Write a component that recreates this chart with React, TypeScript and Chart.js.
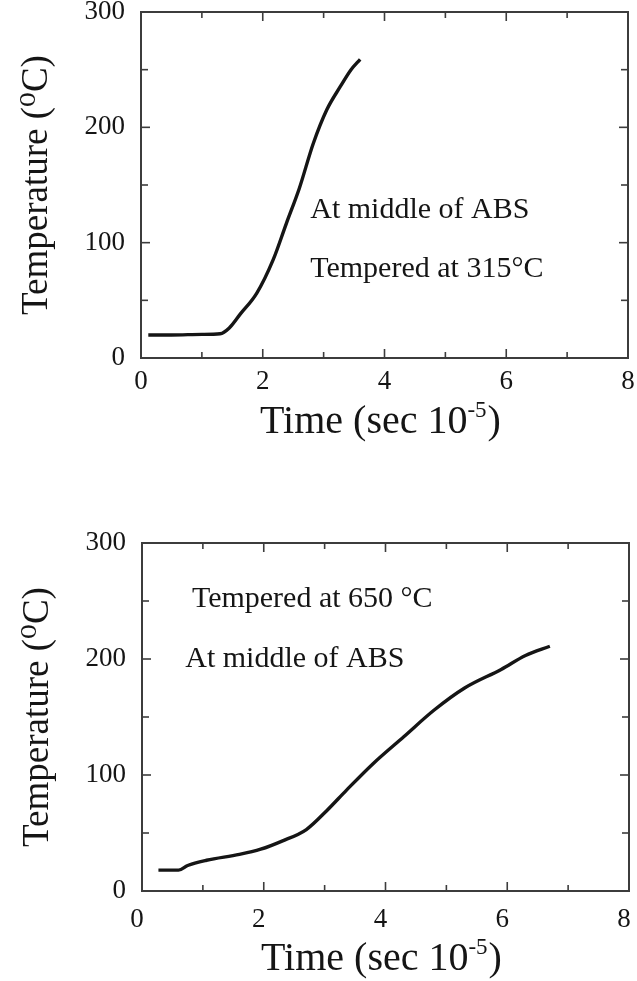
import React, { useEffect, useRef } from "react";
import { Chart, registerables } from "chart.js";

Chart.register(...registerables);

const SERIF = '"Liberation Serif", "Times New Roman", "DejaVu Serif", serif';
const INK = "#151515";
const FRAME = "#3c3c3c";

// Axis ranges and tick steps (shared by both panels)
const X_MIN = 0;
const X_MAX = 8;
const X_MAJOR = 2;
const X_MINOR = 1;
const Y_MIN = 0;
const Y_MAX = 300;
const Y_MAJOR = 100;
const Y_MINOR = 50;

// Axis titles; the time unit carries a raised exponent
const X_TITLE_PARTS = ["Time (sec 10", "-5", ")"];
const Y_TITLE = "Temperature (\u2070C)";

// Upper panel: mid-point of the ABS layer, steel tempered at 315 °C
const timeUpper = [0.12, 0.5, 1.0, 1.3, 1.45, 1.63, 1.9, 2.17, 2.39, 2.6, 2.83, 3.05, 3.27, 3.45, 3.6];
const tempUpper = [20, 20, 20.5, 21, 26, 38, 56, 85, 117, 147, 186, 215, 235, 250, 259];
const notesUpper = ["At middle of ABS", "Tempered at 315\u00B0C"];

// Lower panel: mid-point of the ABS layer, steel tempered at 650 °C
const timeLower = [0.27, 0.6, 0.75, 1.06, 1.6, 1.95, 2.3, 2.7, 3.03, 3.36, 3.8, 4.3, 4.8, 5.3, 5.9, 6.3, 6.7];
const tempLower = [18, 18, 22, 26.5, 31.5, 36, 43, 53, 69, 87, 110, 133, 156, 175, 191, 203, 211];
const notesLower = ["Tempered at 650 \u00B0C", "At middle of ABS"];

type Anchor = { x: number; y: number };

interface PanelSpec {
  top: number;
  height: number;
  padTop: number;
  padLeft: number;
  padRight: number;
  yAxisWidth: number;
  xAxisHeight: number;
  xTickPad: number;
  xTickShift: number;
  xTitleBaseline: number;
  times: number[];
  temps: number[];
  notes: string[];
  anchors: Anchor[];
}

// Closed frame with inward ticks on all four sides, the in-plot notes and the time-axis title
const frameAndNotes = {
  id: "frameAndNotes",
  afterDatasetsDraw(chart: any, _args: any, opts: any) {
    const { ctx, chartArea: a, scales } = chart;
    const xs = scales.x;
    const ys = scales.y;
    ctx.save();
    ctx.strokeStyle = FRAME;
    ctx.lineWidth = 2;
    ctx.strokeRect(a.left, a.top, a.right - a.left, a.bottom - a.top);
    ctx.lineWidth = 1.6;
    const seg = (x1: number, y1: number, x2: number, y2: number) => {
      ctx.beginPath();
      ctx.moveTo(x1, y1);
      ctx.lineTo(x2, y2);
      ctx.stroke();
    };
    for (let v = X_MIN + X_MINOR; v < X_MAX; v += X_MINOR) {
      const px = xs.getPixelForValue(v);
      const len = v % X_MAJOR === 0 ? 9 : 6;
      seg(px, a.bottom, px, a.bottom - len);
      seg(px, a.top, px, a.top + len);
    }
    for (let v = Y_MIN + Y_MINOR; v < Y_MAX; v += Y_MINOR) {
      const py = ys.getPixelForValue(v);
      const len = v % Y_MAJOR === 0 ? 9 : 7;
      seg(a.left, py, a.left + len, py);
      seg(a.right, py, a.right - len, py);
    }

    ctx.fillStyle = INK;
    ctx.textAlign = "left";
    ctx.textBaseline = "alphabetic";

    // notes inside the plot, anchored in data coordinates
    ctx.font = `30px ${SERIF}`;
    const notes: string[] = opts.notes || [];
    const anchors: Anchor[] = opts.anchors || [];
    notes.forEach((t, i) => {
      const an = anchors[i];
      ctx.fillText(t, xs.getPixelForValue(an.x), ys.getPixelForValue(an.y));
    });

    // time-axis title with superscript exponent
    const mainFont = `40px ${SERIF}`;
    const supFont = `23px ${SERIF}`;
    const [p1, p2, p3] = X_TITLE_PARTS;
    ctx.font = mainFont;
    const w1 = ctx.measureText(p1).width;
    const w3 = ctx.measureText(p3).width;
    ctx.font = supFont;
    const w2 = ctx.measureText(p2).width + 1;
    const base = opts.xTitleBaseline;
    let x = (a.left + a.right) / 2 - (w1 + w2 + w3) / 2 - 4;
    ctx.font = mainFont;
    ctx.fillText(p1, x, base);
    x += w1;
    ctx.font = supFont;
    ctx.fillText(p2, x, base - 16);
    x += w2;
    ctx.font = mainFont;
    ctx.fillText(p3, x, base);
    ctx.restore();
  },
};

function Panel({ spec }: { spec: PanelSpec }) {
  const ref = useRef<HTMLCanvasElement | null>(null);

  useEffect(() => {
    if (!ref.current) return;
    const chart = new Chart(ref.current, {
      type: "line",
      data: {
        datasets: [
          {
            data: spec.times.map((t, i) => ({ x: t, y: spec.temps[i] })),
            borderColor: INK,
            borderWidth: 3.4,
            pointRadius: 0,
            fill: false,
            cubicInterpolationMode: "monotone",
          },
        ],
      },
      options: {
        responsive: false,
        animation: false,
        events: [],
        layout: {
          padding: { top: spec.padTop, left: spec.padLeft, right: spec.padRight, bottom: 0 },
        },
        plugins: {
          legend: { display: false },
          tooltip: { enabled: false },
          frameAndNotes: { notes: spec.notes, anchors: spec.anchors, xTitleBaseline: spec.xTitleBaseline },
        } as any,
        scales: {
          x: {
            type: "linear",
            min: X_MIN,
            max: X_MAX,
            grid: { display: false, drawTicks: false },
            border: { display: false },
            ticks: {
              stepSize: X_MAJOR,
              padding: spec.xTickPad,
              labelOffset: spec.xTickShift,
              color: INK,
              font: { family: SERIF, size: 27 },
              maxRotation: 0,
            },
            afterFit: (s: any) => {
              s.height = spec.xAxisHeight;
              s.paddingLeft = 0;
              s.paddingRight = 0;
            },
          },
          y: {
            type: "linear",
            min: Y_MIN,
            max: Y_MAX,
            grid: { display: false, drawTicks: false },
            border: { display: false },
            ticks: {
              stepSize: Y_MAJOR,
              padding: 16,
              color: INK,
              font: { family: SERIF, size: 27 },
            },
            title: {
              display: true,
              text: Y_TITLE,
              color: INK,
              font: { family: SERIF, size: 37 },
              padding: { top: 15, bottom: 0 },
            },
            afterFit: (s: any) => {
              s.width = spec.yAxisWidth;
              s.paddingTop = 0;
              s.paddingBottom = 0;
            },
          },
        },
      } as any,
      plugins: [frameAndNotes],
    });
    return () => chart.destroy();
  }, [spec]);

  return (
    <canvas
      ref={ref}
      width={637}
      height={spec.height}
      style={{ position: "absolute", left: 0, top: spec.top, width: 637, height: spec.height, display: "block" }}
    />
  );
}

const upperSpec: PanelSpec = {
  top: 0,
  height: 460,
  padTop: 12,
  padLeft: 0,
  padRight: 9,
  yAxisWidth: 141,
  xAxisHeight: 102,
  xTickPad: 8,
  xTickShift: 0,
  xTitleBaseline: 433,
  times: timeUpper,
  temps: tempUpper,
  notes: notesUpper,
  anchors: [
    { x: 2.78, y: 121 },
    { x: 2.78, y: 70 },
  ],
};

const lowerSpec: PanelSpec = {
  top: 520,
  height: 461,
  padTop: 23,
  padLeft: 1,
  padRight: 8,
  yAxisWidth: 141,
  xAxisHeight: 90,
  xTickPad: 13,
  xTickShift: -5,
  xTitleBaseline: 450,
  times: timeLower,
  temps: tempLower,
  notes: notesLower,
  anchors: [
    { x: 0.82, y: 245 },
    { x: 0.71, y: 193 },
  ],
};

export default function App() {
  return (
    <div style={{ position: "absolute", left: 0, top: 0, width: 637, height: 981, background: "#ffffff" }}>
      <Panel spec={upperSpec} />
      <Panel spec={lowerSpec} />
    </div>
  );
}
